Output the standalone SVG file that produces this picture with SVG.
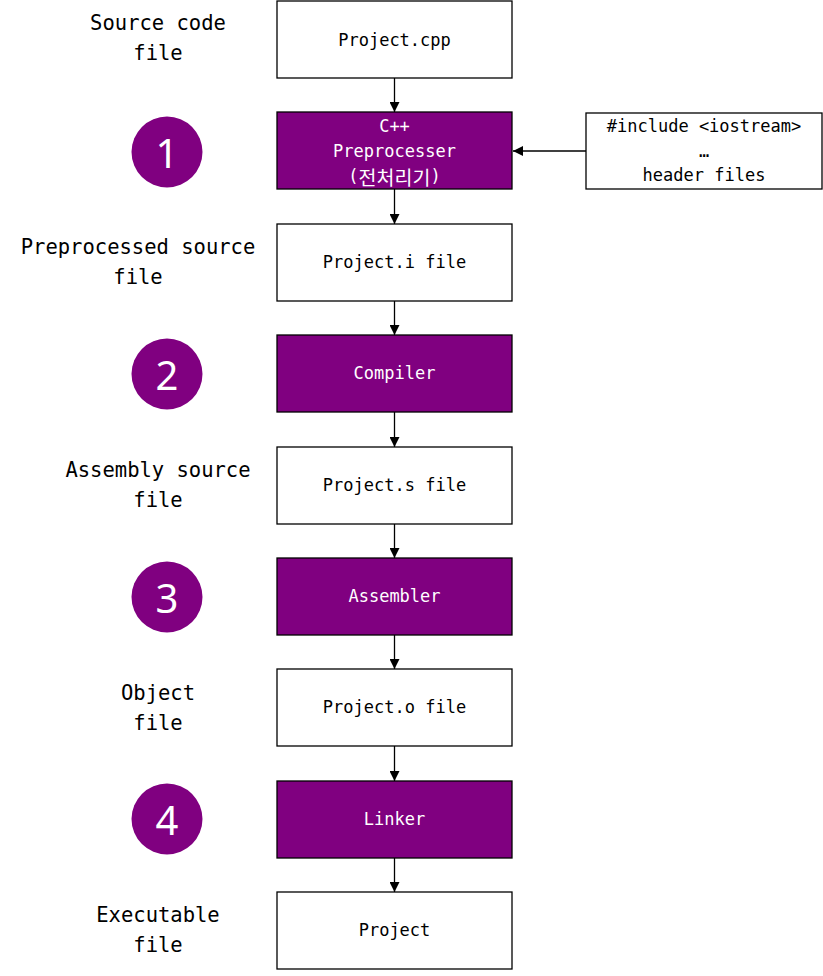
<svg xmlns="http://www.w3.org/2000/svg" width="823" height="976" viewBox="0 0 823 976">
<defs>
<style>
.box{fill:#fff;stroke:#000;stroke-width:1.3}
.pbox{fill:#800080;stroke:#000;stroke-width:1.3}
.t{font-family:"DejaVu Sans Mono","Liberation Mono","Noto Sans CJK KR",monospace;font-size:17px;text-anchor:middle;dominant-baseline:central;fill:#000}
.tw{fill:#fff}
.ko{font-family:"Noto Sans CJK KR",sans-serif;font-size:19.5px}
.lbl{font-family:"DejaVu Sans Mono","Liberation Mono",monospace;font-size:20.5px;text-anchor:middle;fill:#000}
.num{font-family:"Noto Sans","Liberation Sans",sans-serif;font-size:40px;fill:#fff;text-anchor:middle;dominant-baseline:central}
.c{stroke:#000;stroke-width:1.3;fill:none;marker-end:url(#ah)}
</style>
<marker id="ah" viewBox="0 0 10 10" refX="10" refY="5" markerWidth="10" markerHeight="10" markerUnits="userSpaceOnUse" orient="auto">
<path d="M0,0 L10,5 L0,10 Z" fill="#000"/>
</marker>
</defs>
<rect width="823" height="976" fill="#fff"/>
<g id="labels">
<text class="lbl" x="158" y="30">Source code</text><text class="lbl" x="158" y="60">file</text>
<text class="lbl" x="138" y="254">Preprocessed source</text><text class="lbl" x="138" y="284">file</text>
<text class="lbl" x="158" y="477">Assembly source</text><text class="lbl" x="158" y="507">file</text>
<text class="lbl" x="158" y="700">Object</text><text class="lbl" x="158" y="730">file</text>
<text class="lbl" x="158" y="922">Executable</text><text class="lbl" x="158" y="952">file</text>
</g>
<g id="steps">
<g id="step1"><circle cx="167" cy="152" r="35.5" fill="#800080"/><text class="num" x="167" y="152">1</text></g>
<g id="step2"><circle cx="167" cy="374" r="35.5" fill="#800080"/><text class="num" x="167" y="374">2</text></g>
<g id="step3"><circle cx="167" cy="597" r="35.5" fill="#800080"/><text class="num" x="167" y="597">3</text></g>
<g id="step4"><circle cx="167" cy="819" r="35.5" fill="#800080"/><text class="num" x="167" y="819">4</text></g>
</g>
<g id="connectors">
<line class="c" x1="394.5" y1="78" x2="394.5" y2="112"/>
<line class="c" x1="394.5" y1="189" x2="394.5" y2="224"/>
<line class="c" x1="394.5" y1="301" x2="394.5" y2="335"/>
<line class="c" x1="394.5" y1="412" x2="394.5" y2="447"/>
<line class="c" x1="394.5" y1="524" x2="394.5" y2="558"/>
<line class="c" x1="394.5" y1="635" x2="394.5" y2="669"/>
<line class="c" x1="394.5" y1="746" x2="394.5" y2="781"/>
<line class="c" x1="394.5" y1="858" x2="394.5" y2="892"/>
<line class="c" x1="586" y1="151" x2="513" y2="151"/>
</g>
<g id="n1"><rect class="box" x="277" y="1" width="235" height="77"/><text class="t" x="394.5" y="40">Project.cpp</text></g>
<g id="n2"><rect class="pbox" x="277" y="112" width="235" height="77"/>
<text class="t tw" x="394.5" y="126">C++</text><text class="t tw" x="394.5" y="151">Preprocesser</text><text class="t tw" x="394.5" y="176">(<tspan class="ko">전처리기</tspan>)</text></g>
<g id="n3"><rect class="box" x="277" y="224" width="235" height="77"/><text class="t" x="394.5" y="262">Project.i file</text></g>
<g id="n4"><rect class="pbox" x="277" y="335" width="235" height="77"/><text class="t tw" x="394.5" y="373">Compiler</text></g>
<g id="n5"><rect class="box" x="277" y="447" width="235" height="77"/><text class="t" x="394.5" y="485">Project.s file</text></g>
<g id="n6"><rect class="pbox" x="277" y="558" width="235" height="77"/><text class="t tw" x="394.5" y="596">Assembler</text></g>
<g id="n7"><rect class="box" x="277" y="669" width="235" height="77"/><text class="t" x="394.5" y="707">Project.o file</text></g>
<g id="n8"><rect class="pbox" x="277" y="781" width="235" height="77"/><text class="t tw" x="394.5" y="819">Linker</text></g>
<g id="n9"><rect class="box" x="277" y="892" width="235" height="77"/><text class="t" x="394.5" y="930">Project</text></g>
<g id="headers"><rect class="box" x="586" y="113" width="236" height="76"/>
<text class="t" x="704" y="126">#include &lt;iostream&gt;</text><text class="t" x="704" y="151">…</text><text class="t" x="704" y="175">header files</text></g>
</svg>
